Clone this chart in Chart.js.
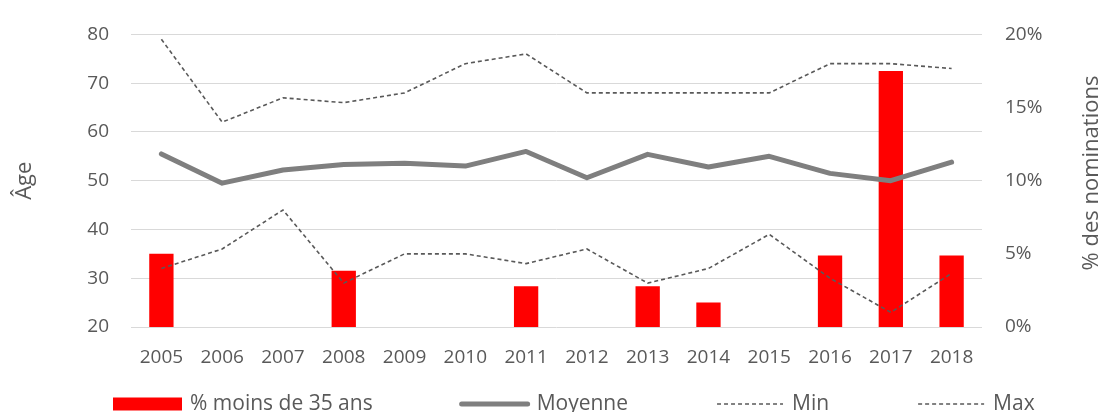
<!DOCTYPE html>
<html>
<head>
<meta charset="utf-8">
<script src="https://cdn.jsdelivr.net/npm/chart.js"></script>
<style>
  html, body { margin: 0; padding: 0; background: #fff; }
</style>
</head>
<body>
<canvas id="chart" width="1102" height="412"></canvas>
<script>
const years = ['2005', '2006', '2007', '2008', '2009', '2010', '2011', '2012', '2013', '2014', '2015', '2016', '2017', '2018'];
const pctUnder35 = [5.0, null, null, 3.85, null, null, 2.78, null, 2.78, 1.67, null, 4.88, 17.5, 4.88];
const ageMean = [55.5, 49.5, 52.2, 53.3, 53.6, 53.0, 56.0, 50.6, 55.4, 52.8, 55.0, 51.5, 50.0, 53.8];
const ageMin = [32, 36, 44, 29, 35, 35, 33, 36, 29, 32, 39, 30, 23, 31];
const ageMax = [79, 62, 67, 66, 68, 74, 76, 68, 68, 68, 68, 74, 74, 73];
const seriesNames = ['% moins de 35 ans', 'Moyenne', 'Min', 'Max'];
const leftTitle = 'Âge';
const rightTitle = '% des nominations';

const TEXT = '#595959';
const FONT = '"Open Sans", sans-serif';

// legend + right title drawn by hand (Excel-like spacing, bottom-to-top title)
const extras = {
  id: 'extras',
  afterDraw(chart) {
    const ctx = chart.ctx;
    ctx.save();
    ctx.fillStyle = TEXT;
    ctx.textBaseline = 'middle';

    ctx.save();
    ctx.font = '22px ' + FONT;
    ctx.translate(1092, 173);
    ctx.rotate(-Math.PI / 2);
    ctx.textAlign = 'center';
    ctx.fillText(rightTitle, 0, 0);
    ctx.restore();

    ctx.font = '21px ' + FONT;
    const y = 404;
    let x = 113;
    chart.data.datasets.forEach(ds => {
      ctx.save();
      if (ds.type === 'line') {
        ctx.strokeStyle = ds.borderColor;
        ctx.lineWidth = ds.borderWidth;
        ctx.lineCap = ds.borderCapStyle || 'butt';
        ctx.setLineDash(ds.borderDash || []);
        ctx.beginPath();
        ctx.moveTo(x + 2, y);
        ctx.lineTo(x + 68, y);
        ctx.stroke();
      } else {
        ctx.fillStyle = ds.backgroundColor;
        ctx.fillRect(x, y - 6.5, 69, 13);
      }
      ctx.restore();
      ctx.textAlign = 'left';
      ctx.fillText(ds.label, x + 77, y);
      x += 77 + ctx.measureText(ds.label).width + 87;
    });
    ctx.restore();
  }
};

new Chart(document.getElementById('chart'), {
  type: 'bar',
  data: {
    labels: years,
    datasets: [
      {
        type: 'bar',
        label: seriesNames[0],
        data: pctUnder35,
        yAxisID: 'y1',
        backgroundColor: '#ff0000',
        barPercentage: 0.4,
        categoryPercentage: 1,
        order: 10
      },
      {
        type: 'line',
        label: seriesNames[1],
        data: ageMean,
        yAxisID: 'y',
        borderColor: '#7f7f7f',
        borderWidth: 5,
        borderCapStyle: 'round',
        borderJoinStyle: 'round',
        pointRadius: 0,
        tension: 0,
        order: 1
      },
      {
        type: 'line',
        label: seriesNames[2],
        data: ageMin,
        yAxisID: 'y',
        borderColor: '#595959',
        borderWidth: 1.6,
        borderDash: [4, 3],
        pointRadius: 0,
        tension: 0,
        order: 2
      },
      {
        type: 'line',
        label: seriesNames[3],
        data: ageMax,
        yAxisID: 'y',
        borderColor: '#595959',
        borderWidth: 1.6,
        borderDash: [4, 3],
        pointRadius: 0,
        tension: 0,
        order: 3
      }
    ]
  },
  options: {
    responsive: false,
    animation: false,
    layout: {
      padding: { top: 28, bottom: 40, left: 0, right: 0 }
    },
    plugins: {
      legend: { display: false },
      tooltip: { enabled: false }
    },
    scales: {
      x: {
        grid: { display: false },
        border: { display: false },
        ticks: { color: TEXT, font: { family: FONT, size: 19 }, padding: 11, maxRotation: 0 },
        afterFit: s => { s.height = 45; }
      },
      y: {
        position: 'left',
        min: 20,
        max: 80,
        ticks: { stepSize: 10, color: TEXT, font: { family: FONT, size: 19 }, padding: 22 },
        grid: { color: '#d9d9d9', lineWidth: 1, drawTicks: false },
        border: { display: false },
        title: {
          display: true,
          text: leftTitle,
          color: TEXT,
          font: { family: FONT, size: 22 },
          padding: { top: 12, bottom: 0 }
        },
        afterFit: s => { s.width = 131; }
      },
      y1: {
        position: 'right',
        min: 0,
        max: 20,
        ticks: {
          stepSize: 5,
          color: TEXT,
          font: { family: FONT, size: 19 },
          padding: 23,
          callback: v => v + '%'
        },
        grid: { display: false, drawTicks: false },
        border: { display: false },
        afterFit: s => { s.width = 120; }
      }
    }
  },
  plugins: [extras]
});
</script>
</body>
</html>
